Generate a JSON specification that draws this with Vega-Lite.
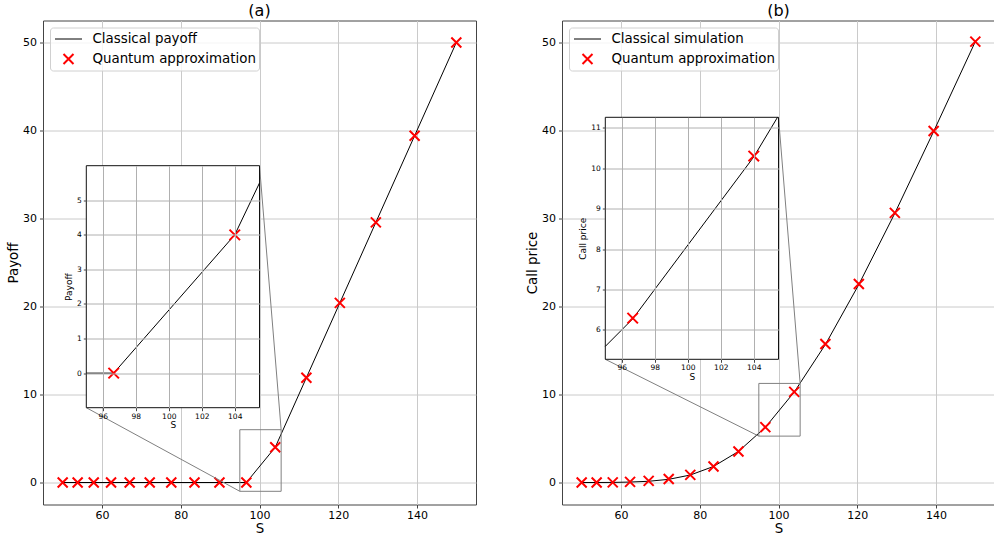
{
  "$schema": "https://vega.github.io/schema/vega-lite/v6.json",
  "background": "white",
  "padding": {"left": 6, "top": 1.5, "right": 0, "bottom": 0},
  "config": {
    "font": "DejaVu Sans",
    "view": {"stroke": "#444", "strokeWidth": 1},
    "axis": {"labelFont": "DejaVu Sans", "titleFont": "DejaVu Sans", "labelColor": "#000", "titleColor": "#000", "tickColor": "#444", "titleFontWeight": "normal", "gridColor": "#cacaca", "gridWidth": 1, "domain": false},
    "title": {"font": "DejaVu Sans", "fontSize": 16, "fontWeight": "normal", "color": "#000", "offset": 2},
    "legend": {"orient": "top-left", "offset": 7, "padding": 3, "symbolOffset": 8.8, "labelFont": "DejaVu Sans", "labelFontSize": 13.4, "labelColor": "#000", "labelOffset": 17.2, "labelLimit": 400, "clipHeight": 17, "rowPadding": 3, "symbolSize": 729, "strokeColor": "#d0d0d0", "cornerRadius": 3, "fillColor": "rgba(255,255,255,0.8)"}
  },
  "datasets": {
    "grid": [
      {"S": 50.0, "payoff": 0, "q": 0, "call": 0.0, "qc": 0.0},
      {"S": 53.8, "payoff": 0, "q": 0, "call": 0.0, "qc": 0.0},
      {"S": 57.89, "payoff": 0, "q": 0, "call": 0.01, "qc": 0.01},
      {"S": 62.29, "payoff": 0, "q": 0, "call": 0.05, "qc": 0.07},
      {"S": 67.02, "payoff": 0, "q": 0, "call": 0.14, "qc": 0.18},
      {"S": 72.11, "payoff": 0, "q": 0, "call": 0.36, "qc": 0.4},
      {"S": 77.59, "payoff": 0, "q": 0, "call": 0.85, "qc": 0.87},
      {"S": 83.49, "payoff": 0, "q": 0, "call": 1.82, "qc": 1.82},
      {"S": 89.83, "payoff": 0, "q": 0, "call": 3.53, "qc": 3.52},
      {"S": 96.66, "payoff": 0, "q": 0, "call": 6.27, "qc": 6.29},
      {"S": 104.0, "payoff": 4.0, "q": 4.0, "call": 10.28, "qc": 10.3},
      {"S": 111.91, "payoff": 11.91, "q": 11.91, "call": 15.68, "qc": 15.74},
      {"S": 120.41, "payoff": 20.41, "q": 20.41, "call": 22.5, "qc": 22.56},
      {"S": 129.56, "payoff": 29.56, "q": 29.56, "call": 30.6, "qc": 30.64},
      {"S": 139.41, "payoff": 39.41, "q": 39.41, "call": 39.89, "qc": 39.95},
      {"S": 150.0, "payoff": 50.0, "q": 50.0, "call": 50.1, "qc": 50.1}
    ],
    "insetA": [
      {"S": 95.0, "v": 0},
      {"S": 96.66, "v": 0},
      {"S": 104.0, "v": 4.0},
      {"S": 105.5, "v": 5.5}
    ],
    "insetB": [
      {"S": 95.0, "v": 5.59},
      {"S": 96.66, "v": 6.27},
      {"S": 104.0, "v": 10.28},
      {"S": 105.44, "v": 11.26}
    ],
    "zoomA": [{"x1": 95, "x2": 105.5, "y1": -1, "y2": 6}],
    "zoomB": [{"x1": 95, "x2": 105.5, "y1": 5.27, "y2": 11.26}],
    "linksA": [
      {"x1": 95, "y1": -1, "x2": 56, "y2": 8.5},
      {"x1": 105.5, "y1": 6, "x2": 100, "y2": 36}
    ],
    "linksB": [
      {"x1": 95, "y1": 5.27, "x2": 56, "y2": 14},
      {"x1": 105.5, "y1": 11.26, "x2": 100, "y2": 41.5}
    ]
  },
  "hconcat": [
    {
      "title": {"text": "(a)"},
      "width": 433,
      "height": 484,
      "resolve": {"scale": {"x": "independent", "y": "independent"}, "axis": {"x": "independent", "y": "independent"}},
      "layer": [
        {
          "layer": [
            {
              "data": {"name": "grid"},
              "mark": {"type": "line", "strokeWidth": 1},
              "encoding": {
                "x": {"field": "S", "type": "quantitative", "scale": {"domain": [45, 155], "nice": false, "zero": false},
                      "axis": {"values": [60, 80, 100, 120, 140], "title": "S", "labelFontSize": 11, "titleFontSize": 13.4, "tickSize": 3.5, "labelPadding": 1, "titlePadding": 1, "grid": true}},
                "y": {"field": "payoff", "type": "quantitative", "scale": {"domain": [-2.5, 52.5], "nice": false, "zero": false},
                      "axis": {"values": [0, 10, 20, 30, 40, 50], "title": "Payoff", "labelFontSize": 11, "titleFontSize": 13.4, "tickSize": 3.5, "labelPadding": 3, "titlePadding": 2, "grid": true}},
                "color": {"datum": "Classical payoff", "type": "nominal", "scale": {"domain": ["Classical payoff", "Quantum approximation"], "range": ["#000000", "#ff0000"]},
                          "legend": {"title": null, "encode": {"symbols": {"update": {"size": {"signal": "datum.value === 'Quantum approximation' ? 100 : 729"}, "strokeWidth": {"signal": "datum.value === 'Quantum approximation' ? 2 : 1"}}}}}}
              }
            },
            {
              "data": {"name": "grid"},
              "mark": {"type": "point", "filled": false, "strokeWidth": 2, "size": 100, "opacity": 1},
              "encoding": {
                "x": {"field": "S", "type": "quantitative", "title": "S", "scale": {"domain": [45, 155], "nice": false, "zero": false}},
                "y": {"field": "q", "type": "quantitative", "title": "Payoff", "scale": {"domain": [-2.5, 52.5], "nice": false, "zero": false}},
                "color": {"datum": "Quantum approximation", "type": "nominal", "scale": {"domain": ["Classical payoff", "Quantum approximation"], "range": ["#000000", "#ff0000"]},
                          "legend": {"title": null, "encode": {"symbols": {"update": {"size": {"signal": "datum.value === 'Quantum approximation' ? 100 : 729"}, "strokeWidth": {"signal": "datum.value === 'Quantum approximation' ? 2 : 1"}}}}}},
                "shape": {"datum": "Quantum approximation", "type": "nominal", "scale": {"domain": ["Classical payoff", "Quantum approximation"], "range": ["stroke", "M-1,-1L1,1M-1,1L1,-1"]},
                          "legend": {"title": null, "encode": {"symbols": {"update": {"size": {"signal": "datum.value === 'Quantum approximation' ? 100 : 729"}, "strokeWidth": {"signal": "datum.value === 'Quantum approximation' ? 2 : 1"}}}}}}
              }
            },
            {
              "data": {"name": "zoomA"},
              "mark": {"type": "rect", "fill": null, "fillOpacity": 0, "stroke": "#808080", "strokeWidth": 1},
              "encoding": {
                "x": {"field": "x1", "type": "quantitative", "title": "S", "scale": {"domain": [45, 155], "nice": false, "zero": false}},
                "x2": {"field": "x2"},
                "y": {"field": "y1", "type": "quantitative", "title": "Payoff", "scale": {"domain": [-2.5, 52.5], "nice": false, "zero": false}},
                "y2": {"field": "y2"}
              }
            },
            {
              "data": {"name": "linksA"},
              "mark": {"type": "rule", "stroke": "#808080", "strokeWidth": 1},
              "encoding": {
                "x": {"field": "x1", "type": "quantitative", "title": "S", "scale": {"domain": [45, 155], "nice": false, "zero": false}},
                "x2": {"field": "x2"},
                "y": {"field": "y1", "type": "quantitative", "title": "Payoff", "scale": {"domain": [-2.5, 52.5], "nice": false, "zero": false}},
                "y2": {"field": "y2"}
              }
            }
          ]
        },
        {
          "layer": [
            {
              "data": {"name": "zoomA"},
              "mark": {"type": "rect", "fill": "white", "stroke": "#111", "strokeWidth": 1},
              "encoding": {
                "x": {"field": "x1", "type": "quantitative", "scale": {"domain": [95, 105.5], "range": [43.3, 216.5], "nice": false, "zero": false},
                      "axis": {"orient": "bottom", "offset": -96.8, "values": [96, 98, 100, 102, 104], "format": "d", "title": "S", "labelFontSize": 7.5, "titleFontSize": 9, "tickSize": 3, "labelPadding": 1.5, "titlePadding": 1, "grid": false, "zindex": 1}},
                "x2": {"field": "x2"},
                "y": {"field": "y1", "type": "quantitative", "scale": {"domain": [-1, 6], "range": [387.2, 145.2], "nice": false, "zero": false},
                      "axis": {"orient": "left", "offset": -43.3, "values": [0, 1, 2, 3, 4, 5], "format": "d", "title": "Payoff", "labelFontSize": 7.5, "titleFontSize": 9, "tickSize": 3, "labelPadding": 2, "titlePadding": 3, "grid": true, "gridColor": "#b0b0b0", "zindex": 1}},
                "y2": {"field": "y2"}
              }
            },
            {
              "data": {"name": "insetA"},
              "mark": {"type": "line", "color": "#000", "strokeWidth": 1},
              "encoding": {
                "x": {"field": "S", "type": "quantitative", "title": "S", "scale": {"domain": [95, 105.5], "range": [43.3, 216.5], "nice": false, "zero": false}},
                "y": {"field": "v", "type": "quantitative", "title": "Payoff", "scale": {"domain": [-1, 6], "range": [387.2, 145.2], "nice": false, "zero": false}}
              }
            }
          ]
        },
        {
          "data": {"name": "grid"},
          "transform": [{"filter": "datum.S >= 95 && datum.S <= 105.5"}],
          "mark": {"type": "point", "shape": "M-1,-1L1,1M-1,1L1,-1", "filled": false, "stroke": "#ff0000", "strokeWidth": 2, "size": 110, "opacity": 1},
          "encoding": {
            "x": {"field": "S", "type": "quantitative", "scale": {"domain": [95, 105.5], "range": [43.3, 216.5], "nice": false, "zero": false},
                  "axis": {"orient": "top", "values": [96, 98, 100, 102, 104], "grid": true, "gridColor": "#b0b0b0", "labels": false, "ticks": false, "domain": false, "title": null, "zindex": 1}},
            "y": {"field": "q", "type": "quantitative", "scale": {"domain": [-1, 6], "range": [387.2, 145.2], "nice": false, "zero": false}, "axis": null}
          }
        }
      ]
    },
    {
      "title": {"text": "(b)"},
      "width": 433,
      "height": 484,
      "resolve": {"scale": {"x": "independent", "y": "independent"}, "axis": {"x": "independent", "y": "independent"}},
      "layer": [
        {
          "layer": [
            {
              "data": {"name": "grid"},
              "mark": {"type": "line", "strokeWidth": 1},
              "encoding": {
                "x": {"field": "S", "type": "quantitative", "scale": {"domain": [45, 155], "nice": false, "zero": false},
                      "axis": {"values": [60, 80, 100, 120, 140], "title": "S", "labelFontSize": 11, "titleFontSize": 13.4, "tickSize": 3.5, "labelPadding": 1, "titlePadding": 1, "grid": true}},
                "y": {"field": "call", "type": "quantitative", "scale": {"domain": [-2.5, 52.5], "nice": false, "zero": false},
                      "axis": {"values": [0, 10, 20, 30, 40, 50], "title": "Call price", "labelFontSize": 11, "titleFontSize": 13.4, "tickSize": 3.5, "labelPadding": 3, "titlePadding": 2, "grid": true}},
                "color": {"datum": "Classical simulation", "type": "nominal", "scale": {"domain": ["Classical simulation", "Quantum approximation"], "range": ["#000000", "#ff0000"]},
                          "legend": {"title": null, "encode": {"symbols": {"update": {"size": {"signal": "datum.value === 'Quantum approximation' ? 100 : 729"}, "strokeWidth": {"signal": "datum.value === 'Quantum approximation' ? 2 : 1"}}}}}}
              }
            },
            {
              "data": {"name": "grid"},
              "mark": {"type": "point", "filled": false, "strokeWidth": 2, "size": 100, "opacity": 1},
              "encoding": {
                "x": {"field": "S", "type": "quantitative", "title": "S", "scale": {"domain": [45, 155], "nice": false, "zero": false}},
                "y": {"field": "qc", "type": "quantitative", "title": "Call price", "scale": {"domain": [-2.5, 52.5], "nice": false, "zero": false}},
                "color": {"datum": "Quantum approximation", "type": "nominal", "scale": {"domain": ["Classical simulation", "Quantum approximation"], "range": ["#000000", "#ff0000"]},
                          "legend": {"title": null, "encode": {"symbols": {"update": {"size": {"signal": "datum.value === 'Quantum approximation' ? 100 : 729"}, "strokeWidth": {"signal": "datum.value === 'Quantum approximation' ? 2 : 1"}}}}}},
                "shape": {"datum": "Quantum approximation", "type": "nominal", "scale": {"domain": ["Classical simulation", "Quantum approximation"], "range": ["stroke", "M-1,-1L1,1M-1,1L1,-1"]},
                          "legend": {"title": null, "encode": {"symbols": {"update": {"size": {"signal": "datum.value === 'Quantum approximation' ? 100 : 729"}, "strokeWidth": {"signal": "datum.value === 'Quantum approximation' ? 2 : 1"}}}}}}
              }
            },
            {
              "data": {"name": "zoomB"},
              "mark": {"type": "rect", "fill": null, "fillOpacity": 0, "stroke": "#808080", "strokeWidth": 1},
              "encoding": {
                "x": {"field": "x1", "type": "quantitative", "title": "S", "scale": {"domain": [45, 155], "nice": false, "zero": false}},
                "x2": {"field": "x2"},
                "y": {"field": "y1", "type": "quantitative", "title": "Call price", "scale": {"domain": [-2.5, 52.5], "nice": false, "zero": false}},
                "y2": {"field": "y2"}
              }
            },
            {
              "data": {"name": "linksB"},
              "mark": {"type": "rule", "stroke": "#808080", "strokeWidth": 1},
              "encoding": {
                "x": {"field": "x1", "type": "quantitative", "title": "S", "scale": {"domain": [45, 155], "nice": false, "zero": false}},
                "x2": {"field": "x2"},
                "y": {"field": "y1", "type": "quantitative", "title": "Call price", "scale": {"domain": [-2.5, 52.5], "nice": false, "zero": false}},
                "y2": {"field": "y2"}
              }
            }
          ]
        },
        {
          "layer": [
            {
              "data": {"name": "zoomB"},
              "mark": {"type": "rect", "fill": "white", "stroke": "#111", "strokeWidth": 1},
              "encoding": {
                "x": {"field": "x1", "type": "quantitative", "scale": {"domain": [95, 105.5], "range": [43.3, 216.5], "nice": false, "zero": false},
                      "axis": {"orient": "bottom", "offset": -145.2, "values": [96, 98, 100, 102, 104], "format": "d", "title": "S", "labelFontSize": 7.5, "titleFontSize": 9, "tickSize": 3, "labelPadding": 1.5, "titlePadding": 1, "grid": false, "zindex": 1}},
                "x2": {"field": "x2"},
                "y": {"field": "y1", "type": "quantitative", "scale": {"domain": [5.27, 11.26], "range": [338.8, 96.8], "nice": false, "zero": false},
                      "axis": {"orient": "left", "offset": -43.3, "values": [6, 7, 8, 9, 10, 11], "format": "d", "title": "Call price", "labelFontSize": 7.5, "titleFontSize": 9, "tickSize": 3, "labelPadding": 2, "titlePadding": 3, "grid": true, "gridColor": "#b0b0b0", "zindex": 1}},
                "y2": {"field": "y2"}
              }
            },
            {
              "data": {"name": "insetB"},
              "mark": {"type": "line", "color": "#000", "strokeWidth": 1},
              "encoding": {
                "x": {"field": "S", "type": "quantitative", "title": "S", "scale": {"domain": [95, 105.5], "range": [43.3, 216.5], "nice": false, "zero": false}},
                "y": {"field": "v", "type": "quantitative", "title": "Call price", "scale": {"domain": [5.27, 11.26], "range": [338.8, 96.8], "nice": false, "zero": false}}
              }
            }
          ]
        },
        {
          "data": {"name": "grid"},
          "transform": [{"filter": "datum.S >= 95 && datum.S <= 105.5"}],
          "mark": {"type": "point", "shape": "M-1,-1L1,1M-1,1L1,-1", "filled": false, "stroke": "#ff0000", "strokeWidth": 2, "size": 110, "opacity": 1},
          "encoding": {
            "x": {"field": "S", "type": "quantitative", "scale": {"domain": [95, 105.5], "range": [43.3, 216.5], "nice": false, "zero": false},
                  "axis": {"orient": "top", "values": [96, 98, 100, 102, 104], "grid": true, "gridColor": "#b0b0b0", "labels": false, "ticks": false, "domain": false, "title": null, "zindex": 1}},
            "y": {"field": "qc", "type": "quantitative", "scale": {"domain": [5.27, 11.26], "range": [338.8, 96.8], "nice": false, "zero": false}, "axis": null}
          }
        }
      ]
    }
  ],
  "spacing": 48,
  "resolve": {"scale": {"x": "independent", "y": "independent", "color": "independent", "shape": "independent"}, "legend": {"color": "independent", "shape": "independent"}}
}
